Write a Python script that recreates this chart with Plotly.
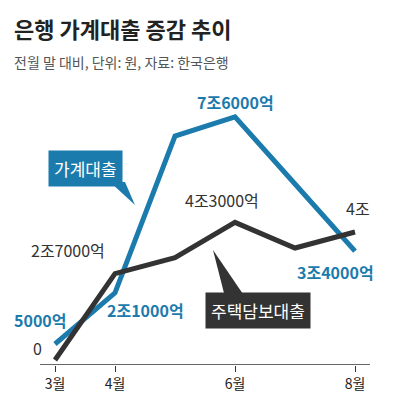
import plotly.graph_objects as go

months = [3, 4, 5, 6, 7, 8]
household = [0.5, 2.1, 7.0, 7.6, 5.5, 3.4]
mortgage = [0.0, 2.7, 3.2, 4.3, 3.5, 4.0]
tick_vals = [3, 4, 6, 8]
tick_text = ["3월", "4월", "6월", "8월"]
BLUE = "#1c7bad"
DARK = "#333333"
F = "Noto Sans CJK KR"

def X(px): return 3 + (px - 55) / 60
def Y(py): return (360 - py) / 32

fig = go.Figure()
fig.add_trace(go.Scatter(x=months, y=household, mode="lines", line=dict(color=BLUE, width=5)))
fig.add_trace(go.Scatter(x=months, y=mortgage, mode="lines", line=dict(color=DARK, width=5)))

ann = [
    ("5000억", 40, 320, BLUE, True), ("2조1000억", 145, 310, BLUE, True),
    ("7조6000억", 235, 102, BLUE, True), ("3조4000억", 335, 272, BLUE, True),
    ("0", 37, 348, DARK, False), ("2조7000억", 68, 250, DARK, False),
    ("4조3000억", 222, 200, DARK, False), ("4조", 358, 208, DARK, False),
]
annotations = []
for t, px, py, c, b in ann:
    annotations.append(dict(x=X(px), y=Y(py), text=f"<b>{t}</b>" if b else t, showarrow=False,
                            font=dict(color=c, size=16, family=F)))
annotations.append(dict(x=X(85), y=Y(168), text="가계대출", showarrow=False, bgcolor=BLUE,
                        font=dict(color="white", size=17, family=F), borderpad=5))
annotations.append(dict(x=X(258), y=Y(310), text="주택담보대출", showarrow=False, bgcolor=DARK,
                        font=dict(color="white", size=17, family=F), borderpad=5))
annotations.append(dict(xref="paper", yref="paper", x=X(12), y=1.0, yanchor="top", xanchor="left",
                        text="<b>은행 가계대출 증감 추이</b>", showarrow=False,
                        font=dict(size=22, color="#222", family=F), yshift=70))
annotations.append(dict(xref="paper", yref="paper", x=0.0, y=1.0, yanchor="top", xanchor="left",
                        text="전월 말 대비, 단위: 원, 자료: 한국은행", showarrow=False,
                        font=dict(size=14, color="#555", family=F), yshift=30))
annotations[-2]["x"] = 0.0
annotations[-2]["xshift"] = 4
annotations[-1]["xshift"] = 4

shapes = [
    dict(type="path", xref="x", yref="y", fillcolor=BLUE, line=dict(width=0),
         path=f"M {X(110)} {Y(182)} L {X(135)} {Y(205)} L {X(125)} {Y(182)} Z"),
    dict(type="path", xref="x", yref="y", fillcolor=DARK, line=dict(width=0),
         path=f"M {X(225)} {Y(297)} L {X(213)} {Y(250)} L {X(245)} {Y(297)} Z"),
    dict(type="line", xref="x", yref="y", x0=X(40), x1=X(370), y0=Y(365), y1=Y(365),
         line=dict(color="#333", width=1.5)),
]

fig.update_layout(
    width=384, height=384, margin=dict(l=0, r=0, t=72, b=27),
    paper_bgcolor="white", plot_bgcolor="white", showlegend=False,
    annotations=annotations, shapes=shapes,
    xaxis=dict(range=[X(8), X(392)], tickvals=tick_vals, ticktext=tick_text, showgrid=False,
               zeroline=False, showline=False, ticks="outside", ticklen=6, tickcolor="#333",
               tickfont=dict(size=14, family=F, color="#222")),
    yaxis=dict(range=[Y(365), Y(80)], visible=False, showgrid=False),
)
fig.write_html("out.html")
